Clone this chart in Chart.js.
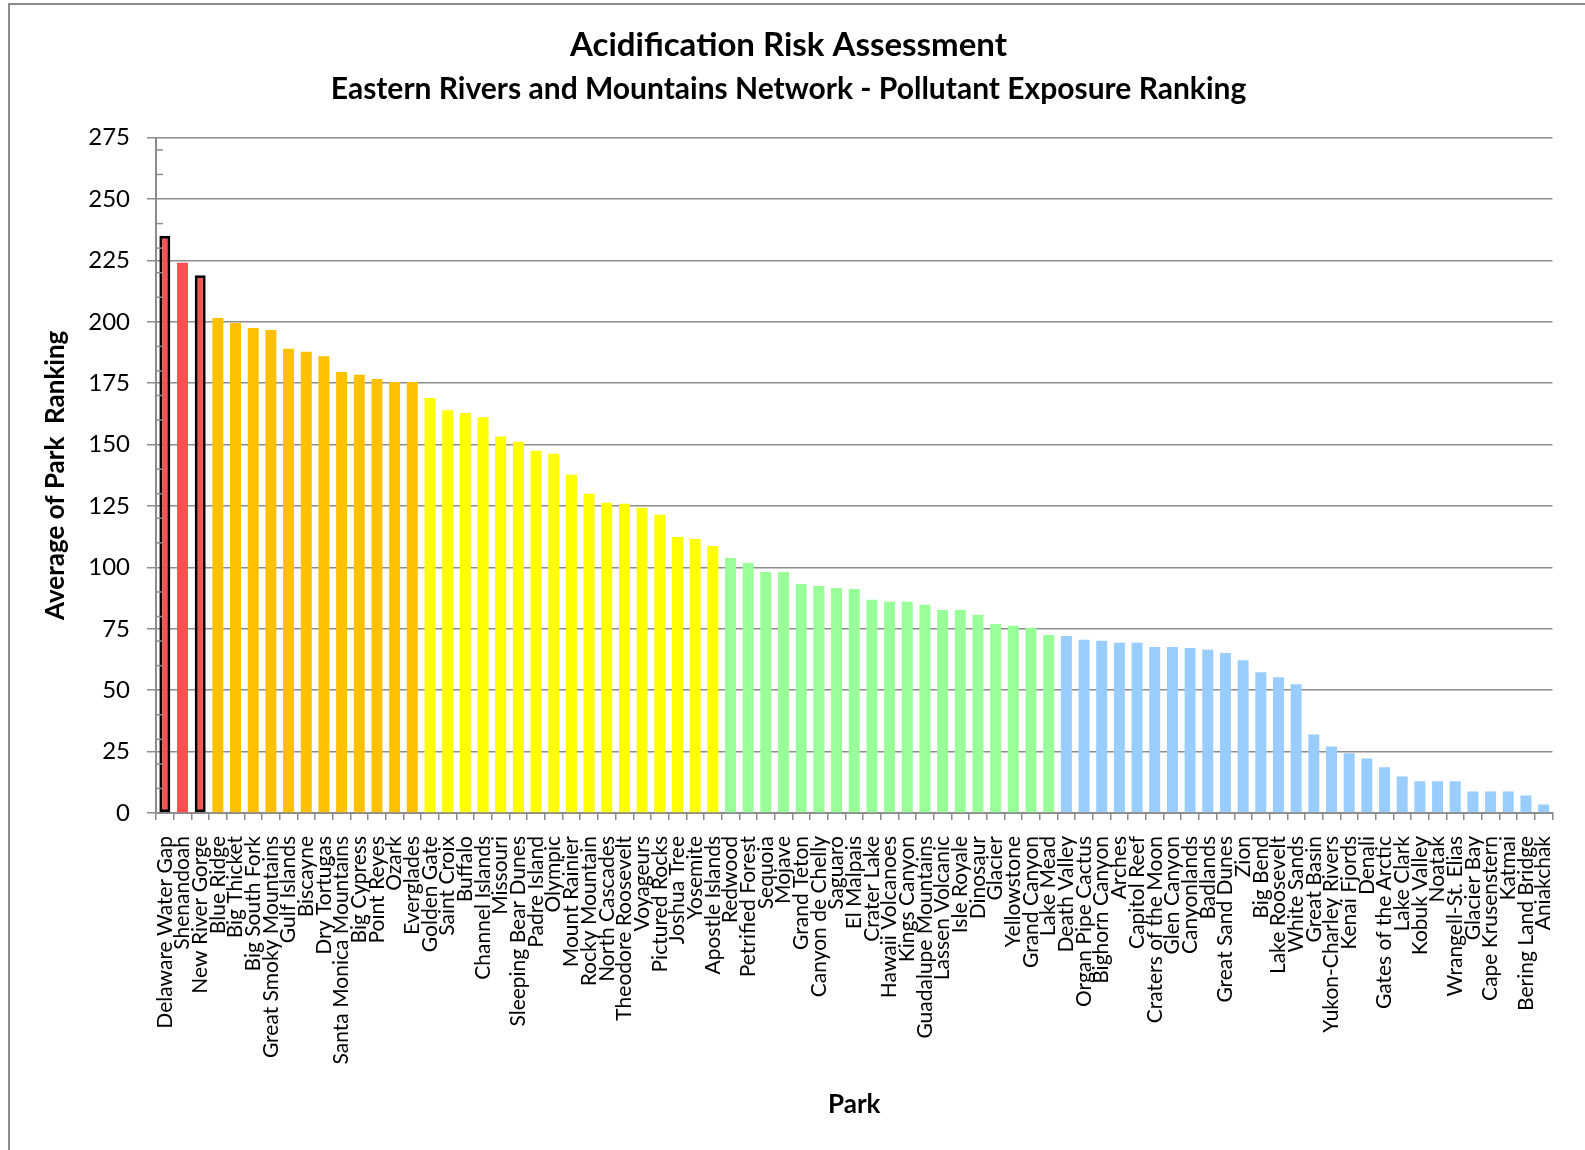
<!DOCTYPE html>
<html>
<head>
<meta charset="utf-8">
<title>Acidification Risk Assessment</title>
<script src="https://cdn.jsdelivr.net/npm/chart.js@4.4.1/dist/chart.umd.min.js"></script>
<style>
  html, body { margin: 0; padding: 0; background: #ffffff; }
  #wrap { position: relative; width: 1585px; height: 1150px; overflow: hidden; background: #ffffff; }
  #frame { position: absolute; left: 8px; top: 3px; width: 1700px; height: 1300px;
           border-left: 2px solid #8c8c8c; border-top: 2px solid #8c8c8c; box-sizing: border-box; }
  #chart { position: absolute; left: 0; top: 0; }
</style>
</head>
<body>
<div id="wrap">
  <div id="frame"></div>
  <canvas id="chart" width="1585" height="1150"></canvas>
</div>
<script>
// Parks, ordered by their average pollutant-exposure ranking
const parks = [
  'Delaware Water Gap', 'Shenandoah', 'New River Gorge', 'Blue Ridge', 'Big Thicket',
  'Big South Fork', 'Great Smoky Mountains', 'Gulf Islands', 'Biscayne', 'Dry Tortugas',
  'Santa Monica Mountains', 'Big Cypress', 'Point Reyes', 'Ozark', 'Everglades',
  'Golden Gate', 'Saint Croix', 'Buffalo', 'Channel Islands', 'Missouri',
  'Sleeping Bear Dunes', 'Padre Island', 'Olympic', 'Mount Rainier', 'Rocky Mountain',
  'North Cascades', 'Theodore Roosevelt', 'Voyageurs', 'Pictured Rocks', 'Joshua Tree',
  'Yosemite', 'Apostle Islands', 'Redwood', 'Petrified Forest', 'Sequoia',
  'Mojave', 'Grand Teton', 'Canyon de Chelly', 'Saguaro', 'El Malpais',
  'Crater Lake', 'Hawaii Volcanoes', 'Kings Canyon', 'Guadalupe Mountains', 'Lassen Volcanic',
  'Isle Royale', 'Dinosaur', 'Glacier', 'Yellowstone', 'Grand Canyon',
  'Lake Mead', 'Death Valley', 'Organ Pipe Cactus', 'Bighorn Canyon', 'Arches',
  'Capitol Reef', 'Craters of the Moon', 'Glen Canyon', 'Canyonlands', 'Badlands',
  'Great Sand Dunes', 'Zion', 'Big Bend', 'Lake Roosevelt', 'White Sands',
  'Great Basin', 'Yukon-Charley Rivers', 'Kenai Fjords', 'Denali', 'Gates of the Arctic',
  'Lake Clark', 'Kobuk Valley', 'Noatak', 'Wrangell-St. Elias', 'Glacier Bay',
  'Cape Krusenstern', 'Katmai', 'Bering Land Bridge', 'Aniakchak'
];

// Average of park ranking
const avgRanking = [
  235, 224, 219, 201.5, 199.5,
  197.5, 196.7, 189, 187.8, 186,
  179.6, 178.4, 176.7, 175.5, 175.5,
  169, 164, 162.9, 161.1, 153.3,
  151.2, 147.5, 146.3, 137.7, 130,
  126.3, 125.9, 124.3, 121.4, 112.4,
  111.6, 108.7, 103.8, 101.8, 98.1,
  98.1, 93.2, 92.4, 91.6, 91.2,
  86.8, 86, 86, 84.8, 82.7,
  82.7, 80.7, 77, 76.2, 75.4,
  72.5, 72.1, 70.5, 70.1, 69.3,
  69.3, 67.6, 67.6, 67.2, 66.5,
  65.1, 62.2, 57.3, 55.3, 52.4,
  32, 27.1, 24.3, 22.2, 18.6,
  14.9, 12.9, 12.9, 12.9, 8.8,
  8.8, 8.8, 7.1, 3.5
];

// Risk tiers: number of consecutive parks in each tier and the tier colour
const tierSizes  = [3, 12, 17, 19, 28];
const tierColors = ['#FF5050', '#FFC000', '#FFFF00', '#99FF99', '#99CCFF'];

// Network parks highlighted with an outline
const networkParks = ['Delaware Water Gap', 'New River Gorge'];

// Value axis
const yMin = 0, yMax = 275, yStep = 25, yMinorStep = 10;

const barColors = [];
tierSizes.forEach((n, t) => { for (let i = 0; i < n; i++) barColors.push(tierColors[t]); });
const isNetwork = parks.map(p => networkParks.includes(p));

const AXIS_GREY = '#8c8c8c';
const FONT = 'Lato, "Open Sans", sans-serif';

// Short inner minor ticks on the value axis
const minorTicks = {
  id: 'minorTicks',
  afterDatasetsDraw(chart) {
    const y = chart.scales.y;
    const ctx = chart.ctx;
    ctx.save();
    ctx.strokeStyle = AXIS_GREY;
    ctx.lineWidth = 1.5;
    for (let v = yMin; v <= yMax; v += yMinorStep) {
      if (v % yStep === 0) continue;
      const py = y.getPixelForValue(v);
      ctx.beginPath();
      ctx.moveTo(y.right, py);
      ctx.lineTo(y.right + 7, py);
      ctx.stroke();
    }
    ctx.restore();
  }
};

function draw() {
  new Chart(document.getElementById('chart'), {
    type: 'bar',
    data: {
      labels: parks,
      datasets: [{
        data: avgRanking,
        backgroundColor: barColors,
        borderColor: isNetwork.map(b => b ? '#000000' : 'rgba(0,0,0,0)'),
        borderWidth: isNetwork.map(b => b ? 3 : 0),
        borderSkipped: false,
        categoryPercentage: 1,
        barPercentage: 0.62
      }]
    },
    options: {
      responsive: false,
      animation: false,
      devicePixelRatio: 1,
      layout: { padding: { left: 20, right: 28, top: 0, bottom: 10 } },
      plugins: {
        legend: { display: false },
        tooltip: { enabled: false },
        title: {
          display: true,
          text: 'Acidification Risk Assessment',
          color: '#000',
          font: { family: FONT, size: 33, weight: 'bold', lineHeight: 1.2 },
          padding: { top: 26, bottom: 3 }
        },
        subtitle: {
          display: true,
          text: 'Eastern Rivers and Mountains Network - Pollutant Exposure Ranking',
          color: '#000',
          font: { family: FONT, size: 30, weight: 'bold', lineHeight: 1.2 },
          padding: { top: 3, bottom: 30 }
        }
      },
      scales: {
        x: {
          grid: { display: true, drawOnChartArea: false, offset: true, tickLength: 7,
                  color: AXIS_GREY, lineWidth: 1.5 },
          border: { color: AXIS_GREY, width: 2 },
          ticks: { autoSkip: false, maxRotation: 90, minRotation: 90, color: '#000',
                   font: { family: FONT, size: 21 }, padding: 16 },
          title: { display: true, text: 'Park', color: '#000',
                   font: { family: FONT, size: 26, weight: 'bold', lineHeight: 1.2 },
                   padding: { top: 0, bottom: 20 } },
          afterFit(s) { s.height = 1150 - 813 - 10; }
        },
        y: {
          min: yMin, max: yMax,
          ticks: { stepSize: yStep, color: '#000', font: { family: FONT, size: 24 }, padding: 17 },
          grid: { color: AXIS_GREY, lineWidth: 1.5, tickLength: 9, tickColor: AXIS_GREY },
          border: { color: AXIS_GREY, width: 2 },
          title: { display: true, text: 'Average of Park  Ranking', color: '#000',
                   font: { family: FONT, size: 26, weight: 'bold', lineHeight: 1.2 },
                   padding: { top: 20, bottom: 0 } },
          afterFit(s) { s.width = 136; }
        }
      }
    },
    plugins: [minorTicks]
  });
}

Promise.all([
  document.fonts.load('bold 30px Lato'),
  document.fonts.load('19px Lato')
]).then(draw, draw);
</script>
</body>
</html>
